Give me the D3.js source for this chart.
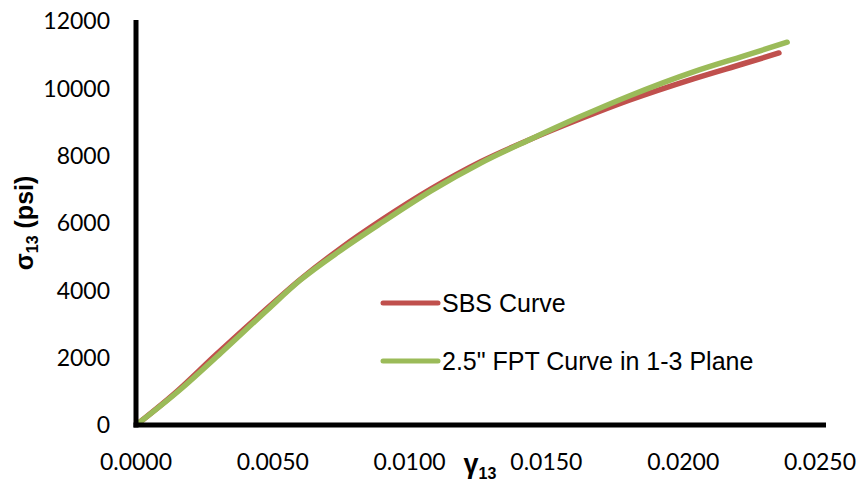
<!DOCTYPE html>
<html>
<head>
<meta charset="utf-8">
<script src="https://cdn.jsdelivr.net/npm/d3@7"></script>
<style>
  body { margin: 0; background: #fff; }
  .tick-label { font-family: Lato, "Open Sans", sans-serif; font-size: 23px; fill: #000; }
  .legend-text { font-family: "Liberation Sans", Arial, sans-serif; font-size: 25px; fill: #000; }
  .axis-title { font-family: "Liberation Sans", Arial, sans-serif; font-weight: bold; fill: #000; }
</style>
</head>
<body>
<script>
// SBS curve (red)
const sbsStrain = [0.0001, 0.0015, 0.0029, 0.0045, 0.0060, 0.0075, 0.0090, 0.0108, 0.0126, 0.0144, 0.0162, 0.0180, 0.0204, 0.0222, 0.0235];
const sbsStress = [60, 1000, 2070, 3250, 4320, 5260, 6100, 7020, 7820, 8480, 9080, 9640, 10290, 10730, 11050];

// 2.5" FPT curve (green)
const fptStrain = [0.00015, 0.0016, 0.0031, 0.0048, 0.0060, 0.0075, 0.0090, 0.0108, 0.0126, 0.0144, 0.0162, 0.0180, 0.0204, 0.0222, 0.0238];
const fptStress = [90, 1040, 2140, 3420, 4300, 5200, 6020, 6960, 7780, 8480, 9146, 9767, 10499, 10960, 11370];

const xTicks = [0, 0.005, 0.01, 0.015, 0.02, 0.025];
const yTicks = [0, 2000, 4000, 6000, 8000, 10000, 12000];
const seriesNames = ["SBS Curve", "2.5\" FPT Curve in 1-3 Plane"];
const seriesColors = ["#c0504d", "#9bbb59"];

function main(){
    const width = 868, height = 489;

    const svg = d3.select("body").append("svg")
        .attr("width", width)
        .attr("height", height);

    const xScale = d3.scaleLinear().domain([0, 0.025]).range([136, 820]);
    const yScale = d3.scaleLinear().domain([0, 12000]).range([425, 21]);

    // y axis labels
    svg.selectAll(".ylab")
        .data(yTicks)
        .enter().append("text")
        .attr("class", "tick-label")
        .attr("x", 110)
        .attr("y", d => yScale(d))
        .attr("dy", "0.36em")
        .attr("text-anchor", "end")
        .text(d => d);

    // x axis labels
    svg.selectAll(".xlab")
        .data(xTicks)
        .enter().append("text")
        .attr("class", "tick-label")
        .attr("x", d => xScale(d))
        .attr("y", 470)
        .attr("text-anchor", "middle")
        .text(d => d3.format(".4f")(d));

    const lines = [
        {x: sbsStrain, y: sbsStress, color: seriesColors[0]},
        {x: fptStrain, y: fptStress, color: seriesColors[1]}
    ];

    const line = d3.line()
        .x(d => xScale(d[0]))
        .y(d => yScale(d[1]))
        .curve(d3.curveMonotoneX);

    svg.selectAll(".series")
        .data(lines)
        .enter().append("path")
        .attr("class", "series")
        .attr("fill", "none")
        .attr("stroke", d => d.color)
        .attr("stroke-width", 5.5)
        .attr("stroke-linecap", "round")
        .attr("stroke-linejoin", "round")
        .attr("d", d => line(d.x.map((v, i) => [v, d.y[i]])));

    // axis lines (drawn over the curves)
    svg.append("line")
        .attr("x1", xScale(0)).attr("x2", xScale(0))
        .attr("y1", yScale(12000) - 1).attr("y2", yScale(0) + 2.5)
        .attr("stroke", "#000").attr("stroke-width", 5);
    svg.append("line")
        .attr("x1", xScale(0) - 2.5).attr("x2", xScale(0.025) + 6)
        .attr("y1", yScale(0)).attr("y2", yScale(0))
        .attr("stroke", "#000").attr("stroke-width", 5);

    // legend
    const legend = svg.selectAll(".legend")
        .data(seriesNames)
        .enter().append("g")
        .attr("class", "legend")
        .attr("transform", (d, i) => "translate(383," + (303 + i * 58) + ")");

    legend.append("line")
        .attr("x1", 0).attr("x2", 55)
        .attr("stroke", (d, i) => seriesColors[i])
        .attr("stroke-width", 5)
        .attr("stroke-linecap", "round");

    legend.append("text")
        .attr("class", "legend-text")
        .attr("x", 59)
        .attr("y", 9)
        .text(d => d);

    // axis titles
    const yTitle = svg.append("text")
        .attr("class", "axis-title")
        .attr("transform", "translate(33,223) rotate(-90)")
        .attr("text-anchor", "middle")
        .style("font-size", "25px");
    yTitle.append("tspan").text("σ");
    yTitle.append("tspan").attr("dy", 5).style("font-size", "16px").text("13");
    yTitle.append("tspan").attr("dy", -5).text(" (psi)");

    const xTitle = svg.append("text")
        .attr("class", "axis-title")
        .attr("x", 480)
        .attr("y", 473)
        .attr("text-anchor", "middle")
        .style("font-size", "27px");
    xTitle.append("tspan").text("γ");
    xTitle.append("tspan").attr("dy", 6).style("font-size", "16px").text("13");
}
main();
</script>
</body>
</html>
